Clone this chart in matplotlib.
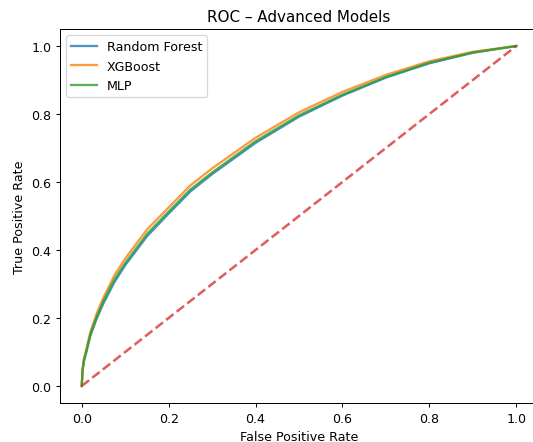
import matplotlib
matplotlib.use("Agg")
import matplotlib.pyplot as plt

# ROC points per model (false positive rate -> true positive rate)
fpr = [0.0, 0.002, 0.005, 0.01, 0.02, 0.035, 0.05, 0.075, 0.1, 0.15, 0.2,
       0.25, 0.3, 0.35, 0.4, 0.5, 0.6, 0.7, 0.8, 0.9, 1.0]
tpr_rf = [0.0, 0.045, 0.072, 0.096, 0.148, 0.2, 0.243, 0.305, 0.355, 0.44, 0.507,
          0.572, 0.623, 0.669, 0.715, 0.792, 0.854, 0.907, 0.949, 0.98, 1.0]
tpr_xgb = [0.0, 0.05, 0.08, 0.105, 0.16, 0.215, 0.26, 0.325, 0.375, 0.46, 0.525,
           0.59, 0.64, 0.685, 0.73, 0.805, 0.865, 0.915, 0.955, 0.983, 1.0]
tpr_mlp = [0.0, 0.048, 0.076, 0.1, 0.153, 0.206, 0.25, 0.313, 0.362, 0.447, 0.513,
           0.578, 0.628, 0.674, 0.72, 0.796, 0.857, 0.909, 0.951, 0.981, 1.0]

models = ["Random Forest", "XGBoost", "MLP"]
curves = [tpr_rf, tpr_xgb, tpr_mlp]

dpi = 91
fig = plt.figure(figsize=(533 / dpi, 443 / dpi), dpi=dpi)
ax = fig.add_axes([60 / 533, 1 - 404 / 443, 478 / 533, 374 / 443])

for name, tpr in zip(models, curves):
    ax.plot(fpr, tpr, label=name, linewidth=1.8, alpha=0.8)
ax.plot([0, 1], [0, 1], "--", color="#d62728", alpha=0.75, linewidth=2)

ax.set_xlabel("False Positive Rate")
ax.set_ylabel("True Positive Rate")
ax.set_title("ROC \u2013 Advanced Models")
ax.legend(loc="upper left")

fig.savefig("out.png", dpi=dpi)
plt.close(fig)
